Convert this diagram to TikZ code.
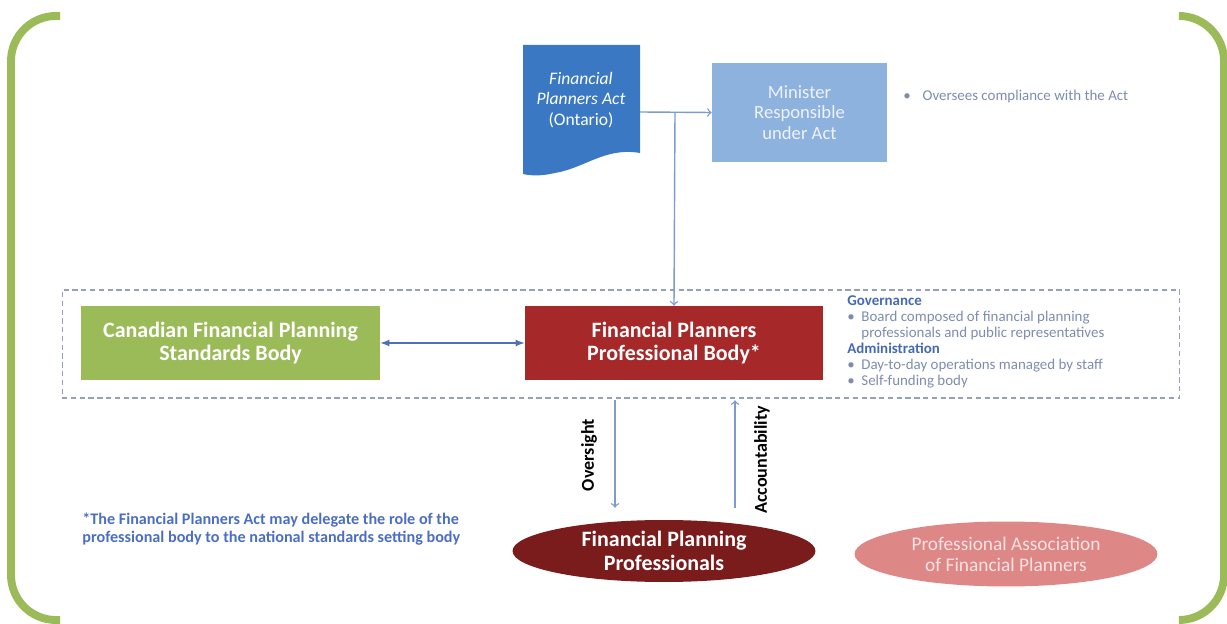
\documentclass[tikz,border=0pt]{standalone}
\usepackage{fontspec}
\setmainfont{Carlito}
\usetikzlibrary{shapes.geometric}

\definecolor{frameGreen}{RGB}{155,187,89}
\definecolor{actBlue}{RGB}{58,120,195}
\definecolor{ministerBlue}{RGB}{142,178,222}
\definecolor{csbGreen}{RGB}{155,187,89}
\definecolor{fpbRed}{RGB}{166,40,40}
\definecolor{fppRed}{RGB}{122,28,28}
\definecolor{assocPink}{RGB}{222,135,135}
\definecolor{linkBlue}{RGB}{125,155,205}
\definecolor{duoBlue}{RGB}{80,110,190}
\definecolor{groupGray}{RGB}{150,160,185}
\definecolor{noteGray}{RGB}{125,140,175}
\definecolor{headBlue}{RGB}{70,105,180}
\definecolor{footBlue}{RGB}{75,110,195}

\tikzset{
	box/.style={rectangle, inner sep=0pt, align=center, text=white, font=\fontsize{12.5}{13.6}\selectfont\bfseries},
	link/.style={draw=linkBlue, line width=0.8pt},
	flowlabel/.style={rotate=90, inner sep=0pt, font=\fontsize{10.3}{11}\selectfont\bfseries},
	note/.style={anchor=north west, align=left, inner sep=0pt, text=noteGray, font=\fontsize{8.5}{9.2}\selectfont},
}

\begin{document}
\begin{tikzpicture}[x=0.02cm,y=-0.02cm]
	\useasboundingbox (0,0) rectangle (1227,624);
	
	\draw[frameGreen, line width=4.5pt, rounded corners=0.9cm] (60,16) -- (11,16) -- (11,620) -- (60,620);
	\draw[frameGreen, line width=4.5pt, rounded corners=0.9cm] (1182,16) -- (1224,16) -- (1224,620) -- (1182,620);
	
	\fill[actBlue] (523,45) -- (640,45) -- (640,153) .. controls (605,147) and (585,168) .. (555,173) .. controls (542,176) and (532,176) .. (523,174) -- cycle;
	\node[box, font=\fontsize{10}{11.5}\selectfont] (act) at (581,100) {\textit{Financial}\\\textit{Planners Act}\\(Ontario)};
	\coordinate (actR) at (640,112);
	\coordinate (split) at (675,112);
	
	\node[box, fill=ministerBlue, minimum width=3.5cm, minimum height=1.98cm, text={rgb,255:red,238;green,242;blue,250}, font=\fontsize{10.6}{11.5}\selectfont] (minister) at (799.5,112.5) {Minister\\Responsible\\under Act};
	\node[note, anchor=west] (oversee) at (903,97) {\makebox[11pt][l]{\textbullet}Oversees compliance with the Act};
	
	\node[draw=groupGray, densely dashed, line width=0.6pt, minimum width=22.36cm, minimum height=2.16cm] (group) at (621,344) {};
	\node[box, fill=csbGreen, minimum width=5.98cm, minimum height=1.48cm] (csb) at (230.5,343) {Canadian Financial Planning\\Standards Body};
	\node[box, fill=fpbRed, minimum width=5.96cm, minimum height=1.48cm] (fpb) at (674,343) {Financial Planners\\Professional Body*};
	\node[note] (body) at (847,295) {{\bfseries\color{headBlue}Governance}\\
		\makebox[8pt][l]{\textbullet}Board composed of financial planning\\
		\hspace*{8pt}professionals and public representatives\\
		{\bfseries\color{headBlue}Administration}\\
		\makebox[8pt][l]{\textbullet}Day-to-day operations  managed by staff\\
		\makebox[8pt][l]{\textbullet}Self-funding body};
	
	\node[box, ellipse, fill=fppRed, minimum width=6.06cm, minimum height=1.24cm] (fpp) at (664,551) {Financial Planning\\Professionals};
	\node[box, ellipse, fill=assocPink, minimum width=6.06cm, minimum height=1.3cm, text={rgb,255:red,250;green,226;blue,226}, font=\fontsize{11}{12}\selectfont] (assoc) at (1006,554) {Professional Association\\of Financial Planners};
	
	\draw[link, ->] (actR) -- (minister.west);
	\draw[link, ->] (split) -- (fpb.north);
	\draw[draw=duoBlue, line width=0.8pt, latex-latex] (csb) -- (fpb);
	\draw[link, ->, shorten <=0.4cm, shorten >=0.24cm] (fpb.south -| 615,0) -- (fpp.north -| 615,0);
	\draw[link, ->, shorten <=0.24cm, shorten >=0.4cm] (fpp.north -| 735,0) -- (fpb.south -| 735,0);
	\node[flowlabel] (ovLabel) at (589,455) {Oversight};
	\node[flowlabel] (acLabel) at (762,460) {Accountability};
	
	\node[anchor=west, align=left, inner sep=0pt, text=footBlue, font=\fontsize{9.2}{10.2}\selectfont\bfseries] (foot) at (82,529) {*The Financial Planners Act may delegate the role of the\\professional body to the national standards setting body};
\end{tikzpicture}
\end{document}
